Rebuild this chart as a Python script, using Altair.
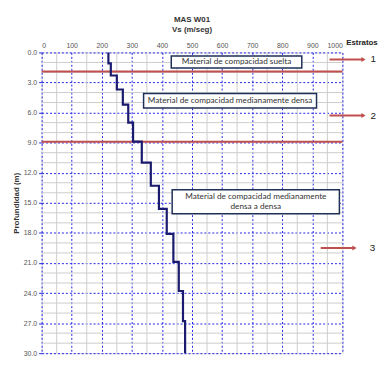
import altair as alt
import pandas as pd

# --- data ---
depth_tops = [0.0, 1.1, 2.3, 3.7, 5.2, 7.0, 8.9, 11.0, 13.3, 15.6, 18.1, 20.9, 23.8, 26.8]
depth_bottoms = depth_tops[1:] + [30.0]
vs_values = [222, 230, 250, 270, 288, 304, 333, 363, 390, 416, 438, 456, 470, 477]

x_major = list(range(0, 1001, 100))
y_major = [0, 3, 6, 9, 12, 15, 18, 21, 24, 27, 30]
x_minor = list(range(50, 1000, 100))
y_minor = [d for d in range(1, 30) if d % 3 != 0]

strata_limits = [1.9, 8.9]

box_lines = [
    "Material  de  compacidad suelta",
    "Material  de  compacidad medianamente densa",
    "Material  de  compacidad medianamente",
    "densa a densa",
]
box_of_line = [0, 1, 2, 2]
line_depths = [0.95, 4.83, 14.4, 15.4]

box_x1 = [431, 339, 434]
box_x2 = [865, 914, 990]
box_y1 = [0.35, 4.1, 13.7]
box_y2 = [1.55, 5.55, 16.1]

strata_numbers = ["1", "2", "3"]
arrow_depths = [0.7, 6.3, 19.5]
arrow_x1 = [957, 957, 928]
arrow_x2 = [1070, 1070, 1040]
number_x = [1103, 1103, 1100]

# --- tables ---
rows = []
for i, (t, b, v) in enumerate(zip(depth_tops, depth_bottoms, vs_values)):
    rows.append({"vs": v, "depth": t, "o": 2 * i})
    rows.append({"vs": v, "depth": b, "o": 2 * i + 1})
profile = pd.DataFrame(rows)

boxes = pd.DataFrame({"x1": box_x1, "x2": box_x2, "y1": box_y1, "y2": box_y2})
box_text = pd.DataFrame({
    "label": box_lines,
    "xc": [(box_x1[b] + box_x2[b]) / 2 for b in box_of_line],
    "d": line_depths,
})
arrows = pd.DataFrame({"x1": arrow_x1, "x2": arrow_x2, "d": arrow_depths,
                       "nx": number_x, "n": strata_numbers})

BLUE = "#2323e6"
RED = "#c0504d"
NAVY = "#1a1a6e"
LABEL = "#555555"

xs = alt.Scale(domain=[0, 1000], nice=False, zero=False)
ys = alt.Scale(domain=[0, 30], reverse=True, nice=False, zero=False)

x_axis = alt.Axis(orient="top", values=x_major, title=None, ticks=False,
                  format="d", labelOverlap=False,
                  labelPadding=4, labelFontSize=7, labelColor=LABEL,
                  labelFont="Liberation Sans", domain=False,
                  grid=True, gridColor=BLUE, gridDash=[2, 2], gridWidth=1,
                  gridOpacity=1)
y_axis = alt.Axis(values=y_major, format=".1f", title="Profundidad (m)",
                  labelOverlap=False,
                  titleFontSize=8, titleFont="Liberation Sans",
                  titleFontWeight="bold", titleColor="#333333",
                  titlePadding=3,
                  tickColor=BLUE, tickSize=3, labelPadding=2,
                  labelFontSize=7, labelColor=LABEL,
                  labelFont="Liberation Sans", domain=False,
                  grid=True, gridColor=BLUE, gridDash=[2, 2], gridWidth=1,
                  gridOpacity=1)


def X(f):
    return alt.X(f, type="quantitative", scale=xs, axis=x_axis, title=None)


def Y(f):
    return alt.Y(f, type="quantitative", scale=ys, axis=y_axis,
                 title="Profundidad (m)")


minor_x = alt.Chart(pd.DataFrame({"v": x_minor})).mark_rule(
    color="#cccccc", strokeWidth=1
).encode(x=X("v"))
minor_y = alt.Chart(pd.DataFrame({"d": y_minor})).mark_rule(
    color="#cccccc", strokeWidth=1
).encode(y=Y("d"))

red_rules = alt.Chart(pd.DataFrame({"d": strata_limits})).mark_rule(
    color=RED, strokeWidth=2
).encode(y=Y("d"))

line = alt.Chart(profile).mark_line(color=NAVY, strokeWidth=2.2).encode(
    x=X("vs"), y=Y("depth"), order="o:Q",
)

rects = alt.Chart(boxes).mark_rect(
    fill="white", stroke="#1f3057", strokeWidth=1.5
).encode(x=X("x1"), x2="x2:Q", y=Y("y1"), y2="y2:Q")

texts = alt.Chart(box_text).mark_text(
    font="Lato", fontSize=8.3, color="#333333", baseline="middle"
).encode(x=X("xc"), y=Y("d"), text="label")

arrow_lines = alt.Chart(arrows).mark_rule(color=RED, strokeWidth=2).encode(
    x=X("x1"), x2="x2:Q", y=Y("d")
)
arrow_heads = alt.Chart(arrows).mark_point(
    shape="triangle-right", filled=True, color=RED, size=25, opacity=1
).encode(x=X("x2"), y=Y("d"))
numbers = alt.Chart(arrows).mark_text(
    font="Liberation Sans", fontSize=10, color="#222222", baseline="middle"
).encode(x=X("nx"), y=Y("d"), text="n")

estratos = alt.Chart(pd.DataFrame({"t": ["Estratos"], "x": [1065], "d": [-0.55]})).mark_text(
    font="Liberation Sans", fontSize=8, fontWeight="bold", color="#222222",
    baseline="bottom"
).encode(x=X("x"), y=Y("d"), text="t")

chart = alt.layer(
    minor_x, minor_y, red_rules, line, rects, texts, arrow_lines, arrow_heads,
    numbers, estratos
).properties(
    width=304, height=304,
    autosize=alt.AutoSizeParams(type="none"),
    padding={"left": 34, "top": 43, "right": 37, "bottom": 8},
    title=alt.TitleParams(
        text=["MAS W01", "Vs (m/seg)"], fontSize=8, font="Liberation Sans",
        fontWeight="bold", color="#333333", anchor="middle", offset=5,
        lineHeight=10,
    ),
).configure_view(stroke=BLUE, strokeWidth=2).configure(background="white")

chart.save("out.html", embed_options={"renderer": "svg", "actions": False})
